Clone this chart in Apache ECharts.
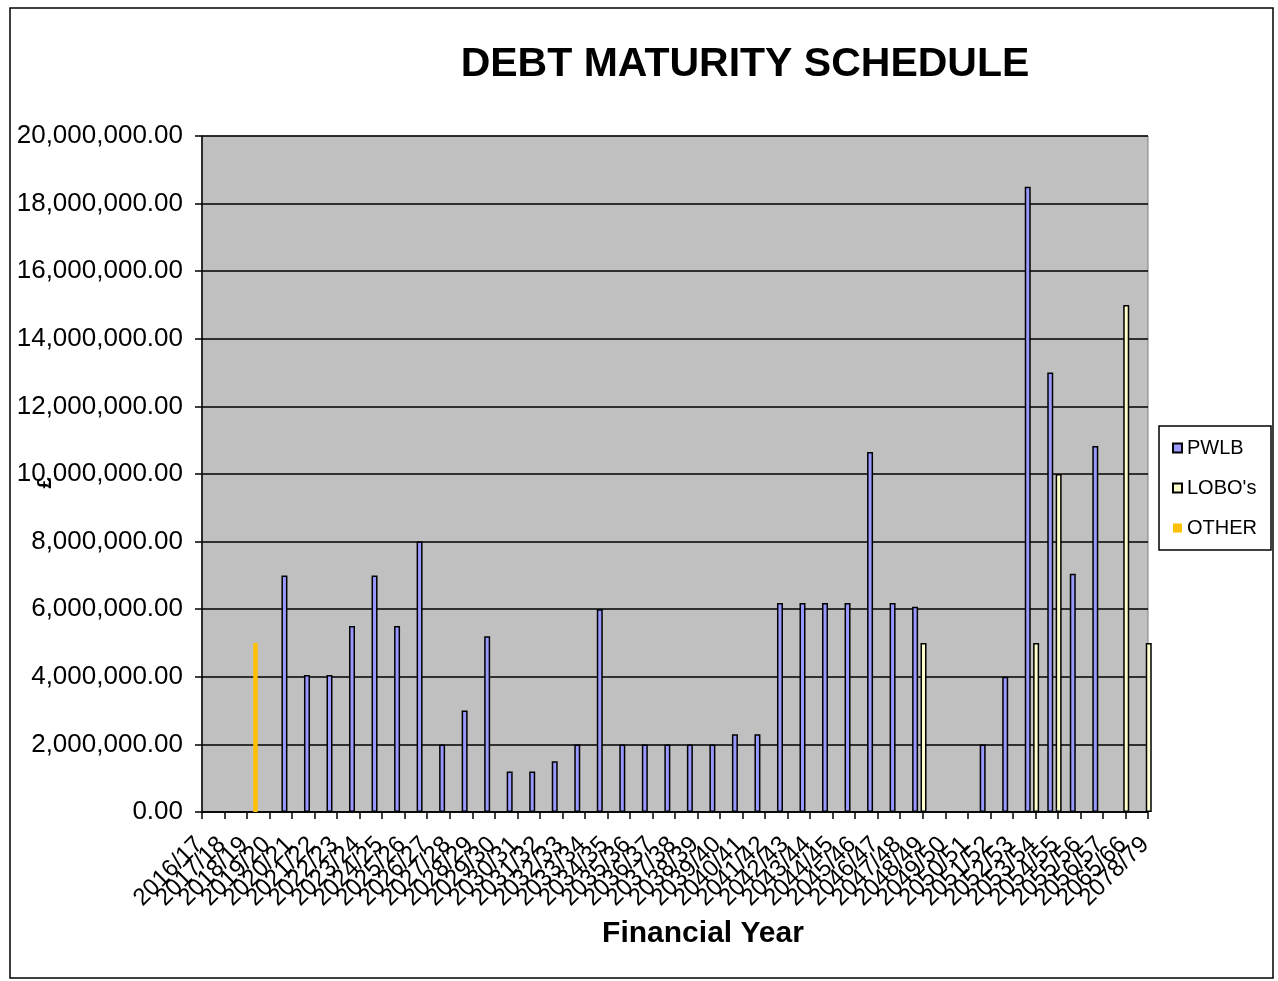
<!DOCTYPE html>
<html>
<head>
<meta charset="utf-8">
<title>Debt Maturity Schedule</title>
<script src="https://cdn.jsdelivr.net/npm/echarts@6/dist/echarts.min.js"></script>
<style>
  html, body { margin: 0; padding: 0; background: #fff; }
  #chart { width: 1278px; height: 981px; }
</style>
</head>
<body>
<div id="chart"></div>
<script>
// financial years on the x axis
const years = [
  '2016/17', '2017/18', '2018/19', '2019/20', '2020/21', '2021/22', '2022/23',
  '2023/24', '2024/25', '2025/26', '2026/27', '2027/28', '2028/29', '2029/30',
  '2030/31', '2031/32', '2032/33', '2033/34', '2034/35', '2035/36', '2036/37',
  '2037/38', '2038/39', '2039/40', '2040/41', '2041/42', '2042/43', '2043/44',
  '2044/45', '2045/46', '2046/47', '2047/48', '2048/49', '2049/50', '2050/51',
  '2051/52', '2052/53', '2053/54', '2054/55', '2055/56', '2056/57', '2065/66',
  '2078/79'
]

// amounts maturing per year (null = nothing)
const pwlb = [
  null, null, null, null, 7000000, 4050000, 4050000,
  5500000, 7000000, 5500000, 8000000, 2000000, 3000000, 5200000,
  1200000, 1200000, 1500000, 2000000, 6000000, 2000000, 2000000,
  2000000, 2000000, 2000000, 2300000, 2300000, 6180000, 6180000,
  6180000, 6180000, 10650000, 6180000, 6070000, null, null,
  2000000, 4000000, 18500000, 13000000, 7050000, 10830000, null,
  null
]
const lobos = [
  null, null, null, null, null, null, null,
  null, null, null, null, null, null, null,
  null, null, null, null, null, null, null,
  null, null, null, null, null, null, null,
  null, null, null, null, 5000000, null, null,
  null, null, 5000000, 10000000, null, null, 15000000,
  5000000
]
const other = [
  null, null, 5000000, null, null, null, null,
  null, null, null, null, null, null, null,
  null, null, null, null, null, null, null,
  null, null, null, null, null, null, null,
  null, null, null, null, null, null, null,
  null, null, null, null, null, null, null,
  null
]

const FONT = "'Liberation Sans', Arial, sans-serif"

function moneyFormatter (v) {
  return v.toLocaleString('en-US', { minimumFractionDigits: 2, maximumFractionDigits: 2 })
}

let chart = echarts.init(document.getElementById('chart'))

const option = {
  animation: false,
  textStyle: { fontFamily: FONT, color: '#000' },
  title: {
    text: 'DEBT MATURITY SCHEDULE',
    left: 740,
    textAlign: 'center',
    top: 39,
    textStyle: { fontFamily: FONT, fontSize: 41, fontWeight: 'bold', color: '#000' }
  },
  graphic: [
    {
      type: 'rect',
      shape: { x: 10, y: 8, width: 1263, height: 970 },
      style: { fill: null, stroke: '#000', lineWidth: 1.5 },
      silent: true
    }
  ],
  legend: {
    orient: 'vertical',
    left: 1159,
    top: 426,
    padding: [12, 14, 12, 13],
    itemGap: 20,
    itemWidth: 9,
    itemHeight: 9,
    icon: 'rect',
    backgroundColor: '#fff',
    borderColor: '#000',
    borderWidth: 1.5,
    textStyle: { fontFamily: FONT, fontSize: 20, color: '#000' },
    data: ['PWLB', "LOBO's", 'OTHER']
  },
  grid: {
    left: 202,
    right: 130,
    top: 136,
    bottom: 169,
    containLabel: false,
    outerBoundsMode: 'none',
    show: true,
    backgroundColor: '#C0C0C0',
    borderColor: '#808080',
    borderWidth: 1
  },
  xAxis: {
    type: 'category',
    data: years,
    boundaryGap: false,
    name: 'Financial Year',
    nameLocation: 'middle',
    nameGap: 107,
    nameMoveOverlap: false,
    nameTextStyle: {
      fontFamily: FONT, fontSize: 30, fontWeight: 'bold', color: '#000',
      padding: [0, 0, 0, 56]
    },
    axisLine: { lineStyle: { color: '#000', width: 1.5 } },
    axisTick: { show: true, interval: 0, length: 7, lineStyle: { color: '#000', width: 1.5 } },
    axisLabel: {
      interval: 0,
      rotate: 45,
      margin: 26,
      padding: [8, 4, 0, 0],
      fontFamily: FONT,
      fontSize: 24,
      color: '#000'
    },
    splitLine: { show: false }
  },
  yAxis: {
    type: 'value',
    min: 0,
    max: 20000000,
    interval: 2000000,
    name: '£',
    nameLocation: 'middle',
    nameGap: 147,
    nameRotate: 90,
    nameMoveOverlap: false,
    nameTextStyle: {
      fontFamily: FONT, fontSize: 20, fontWeight: 'bold', color: '#000',
      padding: [0, 18, 0, 0]
    },
    axisLine: { show: true, lineStyle: { color: '#000', width: 1.5 } },
    axisTick: { show: true, length: 7, lineStyle: { color: '#000', width: 1.5 } },
    axisLabel: {
      margin: 19,
      fontFamily: FONT,
      fontSize: 26,
      color: '#000',
      formatter: moneyFormatter
    },
    splitLine: { lineStyle: { color: '#000', width: 1.5 } }
  },
  series: [
    {
      name: 'PWLB',
      type: 'bar',
      barWidth: 6,
      barGap: '40%',
      data: pwlb,
      itemStyle: { color: '#9999FF', borderColor: '#000', borderWidth: 1.5 }
    },
    {
      name: "LOBO's",
      type: 'bar',
      barWidth: 6,
      barGap: '40%',
      data: lobos,
      itemStyle: { color: '#FFFFCC', borderColor: '#000', borderWidth: 1.5 }
    },
    {
      name: 'OTHER',
      type: 'bar',
      barWidth: 4.5,
      barGap: '40%',
      data: other,
      itemStyle: { color: '#FFC000' }
    }
  ]
}

chart.setOption(option)
</script>
</body>
</html>
